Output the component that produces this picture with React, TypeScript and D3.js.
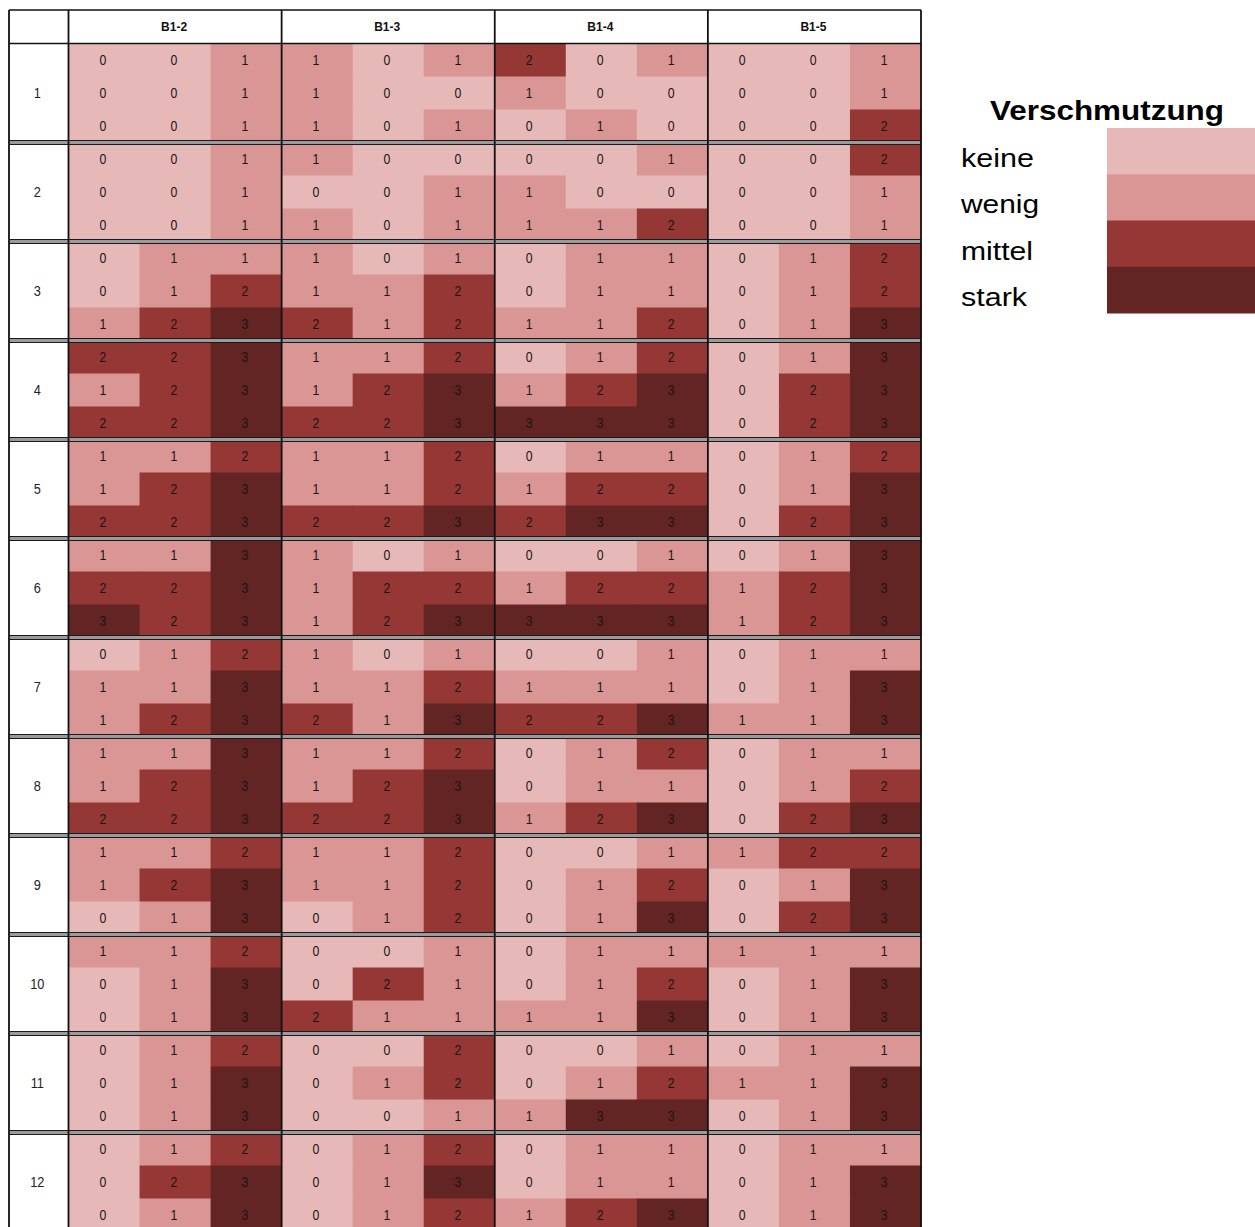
import React from "react";
import * as d3 from "d3";

// ---------- data ----------
const columnGroups = ["B1-2", "B1-3", "B1-4", "B1-5"];
const rowGroups = ["1", "2", "3", "4", "5", "6", "7", "8", "9", "10", "11", "12"];
const levels = ["keine", "wenig", "mittel", "stark"];
const levelColors = ["#E6B9B8", "#D99694", "#953735", "#632523"];
const legendTitle = "Verschmutzung";

// each: 12 groups x 3 sub-rows x 3 sub-columns
const b12 = [
  [0, 0, 1], [0, 0, 1], [0, 0, 1],
  [0, 0, 1], [0, 0, 1], [0, 0, 1],
  [0, 1, 1], [0, 1, 2], [1, 2, 3],
  [2, 2, 3], [1, 2, 3], [2, 2, 3],
  [1, 1, 2], [1, 2, 3], [2, 2, 3],
  [1, 1, 3], [2, 2, 3], [3, 2, 3],
  [0, 1, 2], [1, 1, 3], [1, 2, 3],
  [1, 1, 3], [1, 2, 3], [2, 2, 3],
  [1, 1, 2], [1, 2, 3], [0, 1, 3],
  [1, 1, 2], [0, 1, 3], [0, 1, 3],
  [0, 1, 2], [0, 1, 3], [0, 1, 3],
  [0, 1, 2], [0, 2, 3], [0, 1, 3],
];
const b13 = [
  [1, 0, 1], [1, 0, 0], [1, 0, 1],
  [1, 0, 0], [0, 0, 1], [1, 0, 1],
  [1, 0, 1], [1, 1, 2], [2, 1, 2],
  [1, 1, 2], [1, 2, 3], [2, 2, 3],
  [1, 1, 2], [1, 1, 2], [2, 2, 3],
  [1, 0, 1], [1, 2, 2], [1, 2, 3],
  [1, 0, 1], [1, 1, 2], [2, 1, 3],
  [1, 1, 2], [1, 2, 3], [2, 2, 3],
  [1, 1, 2], [1, 1, 2], [0, 1, 2],
  [0, 0, 1], [0, 2, 1], [2, 1, 1],
  [0, 0, 2], [0, 1, 2], [0, 0, 1],
  [0, 1, 2], [0, 1, 3], [0, 1, 2],
];
const b14 = [
  [2, 0, 1], [1, 0, 0], [0, 1, 0],
  [0, 0, 1], [1, 0, 0], [1, 1, 2],
  [0, 1, 1], [0, 1, 1], [1, 1, 2],
  [0, 1, 2], [1, 2, 3], [3, 3, 3],
  [0, 1, 1], [1, 2, 2], [2, 3, 3],
  [0, 0, 1], [1, 2, 2], [3, 3, 3],
  [0, 0, 1], [1, 1, 1], [2, 2, 3],
  [0, 1, 2], [0, 1, 1], [1, 2, 3],
  [0, 0, 1], [0, 1, 2], [0, 1, 3],
  [0, 1, 1], [0, 1, 2], [1, 1, 3],
  [0, 0, 1], [0, 1, 2], [1, 3, 3],
  [0, 1, 1], [0, 1, 1], [1, 2, 3],
];
const b15 = [
  [0, 0, 1], [0, 0, 1], [0, 0, 2],
  [0, 0, 2], [0, 0, 1], [0, 0, 1],
  [0, 1, 2], [0, 1, 2], [0, 1, 3],
  [0, 1, 3], [0, 2, 3], [0, 2, 3],
  [0, 1, 2], [0, 1, 3], [0, 2, 3],
  [0, 1, 3], [1, 2, 3], [1, 2, 3],
  [0, 1, 1], [0, 1, 3], [1, 1, 3],
  [0, 1, 1], [0, 1, 2], [0, 2, 3],
  [1, 2, 2], [0, 1, 3], [0, 2, 3],
  [1, 1, 1], [0, 1, 3], [0, 1, 3],
  [0, 1, 1], [1, 1, 3], [0, 1, 3],
  [0, 1, 1], [0, 1, 3], [0, 1, 3],
];
const tables = [b12, b13, b14, b15];

// ---------- layout ----------
const W = 1255;
const H = 1227;
const FONT = "'Liberation Sans', Arial, sans-serif";
const SUB = 3;

const left = 9;
const labelRight = 68.5;
const gridRight = 921;
const headerTop = 10;
const gridTop = 43.5;
const groupH = 99;

const xGroup = d3.scaleBand<string>().domain(columnGroups).range([labelRight, gridRight]);
const xSub = d3.scaleBand<number>().domain(d3.range(SUB)).range([0, xGroup.bandwidth()]);
const yGroup = d3
  .scaleBand<string>()
  .domain(rowGroups)
  .range([gridTop, gridTop + groupH * rowGroups.length]);
const ySub = d3.scaleBand<number>().domain(d3.range(SUB)).range([0, yGroup.bandwidth()]);
const color = d3.scaleOrdinal<number, string>().domain([0, 1, 2, 3]).range(levelColors);

const legendY = d3.scaleBand<string>().domain(levels).range([128, 313]);

export default function App() {
  const cells: React.ReactNode[] = [];
  tables.forEach((tbl, ci) => {
    const cg = columnGroups[ci];
    tbl.forEach((row, ri) => {
      const g = rowGroups[Math.floor(ri / SUB)];
      const sr = ri % SUB;
      row.forEach((v, sc) => {
        const x = (xGroup(cg) as number) + (xSub(sc) as number);
        const y = (yGroup(g) as number) + (ySub(sr) as number);
        const w = xSub.bandwidth();
        const h = ySub.bandwidth();
        cells.push(
          <g key={`${ci}-${ri}-${sc}`}>
            <rect x={x} y={y} width={w + 0.6} height={h + 0.6} fill={color(v)} />
            <text
              transform={`translate(${x + w / 2 - 1.2},${y + h / 2 + 5}) scale(0.82,1)`}
              textAnchor="middle"
              fontSize={15}
              fontFamily={FONT}
              fill="#1c1414"
            >
              {v}
            </text>
          </g>
        );
      });
    });
  });

  const boundaries = rowGroups.slice(1).map((g) => yGroup(g) as number);
  boundaries.push(gridTop + groupH * rowGroups.length);

  const vLines = [left, labelRight, ...columnGroups.slice(1).map((c) => xGroup(c) as number), gridRight];

  return (
    <svg
      width={W}
      height={H}
      style={{ position: "absolute", left: 0, top: 0, background: "#fff" }}
    >
      <rect x={0} y={0} width={W} height={H} fill="#fff" />
      {cells}
      {/* header labels */}
      {columnGroups.map((c) => (
        <text
          key={c}
          x={(xGroup(c) as number) + xGroup.bandwidth() / 2 - 1}
          y={31}
          textAnchor="middle"
          fontSize={12}
          fontWeight="bold"
          fontFamily={FONT}
          fill="#111"
        >
          {c}
        </text>
      ))}
      {/* row group labels */}
      {rowGroups.map((g) => (
        <text
          key={g}
          transform={`translate(${(left + labelRight) / 2 - 1.5},${(yGroup(g) as number) + yGroup.bandwidth() / 2 + 5}) scale(0.85,1)`}
          textAnchor="middle"
          fontSize={15}
          fontFamily={FONT}
          fill="#222"
        >
          {g}
        </text>
      ))}
      {/* horizontal lines */}
      <line x1={left} x2={gridRight} y1={headerTop} y2={headerTop} stroke="#111" strokeWidth={1.6} />
      <line x1={left} x2={gridRight} y1={gridTop} y2={gridTop} stroke="#111" strokeWidth={1.6} />
      {boundaries.map((b, i) => (
        <g key={i}>
          <rect x={left} y={b - 2.3} width={gridRight - left} height={4.6} fill="#9a9a9a" />
          <line x1={left} x2={gridRight} y1={b - 2} y2={b - 2} stroke="#1a1a1a" strokeWidth={1.1} />
          <line x1={left} x2={gridRight} y1={b + 2} y2={b + 2} stroke="#1a1a1a" strokeWidth={1.1} />
        </g>
      ))}
      {/* vertical lines */}
      {vLines.map((x, i) => (
        <line key={i} x1={x} x2={x} y1={headerTop} y2={H} stroke="#111" strokeWidth={1.8} />
      ))}
      {/* legend */}
      <text
        x={990}
        y={119.5}
        fontSize={28}
        fontWeight="bold"
        fontFamily={FONT}
        textLength={234}
        lengthAdjust="spacingAndGlyphs"
        fill="#000"
      >
        {legendTitle}
      </text>
      {levels.map((l, i) => (
        <g key={l}>
          <rect
            x={1107}
            y={legendY(l) as number}
            width={W - 1107}
            height={legendY.bandwidth() + 0.5}
            fill={levelColors[i]}
          />
          <text
            x={961}
            y={(legendY(l) as number) + legendY.bandwidth() / 2 + 16}
            fontSize={26}
            fontFamily={FONT}
            textLength={[73, 78, 72, 66][i]}
            lengthAdjust="spacingAndGlyphs"
            fill="#000"
          >
            {l}
          </text>
        </g>
      ))}
    </svg>
  );
}
